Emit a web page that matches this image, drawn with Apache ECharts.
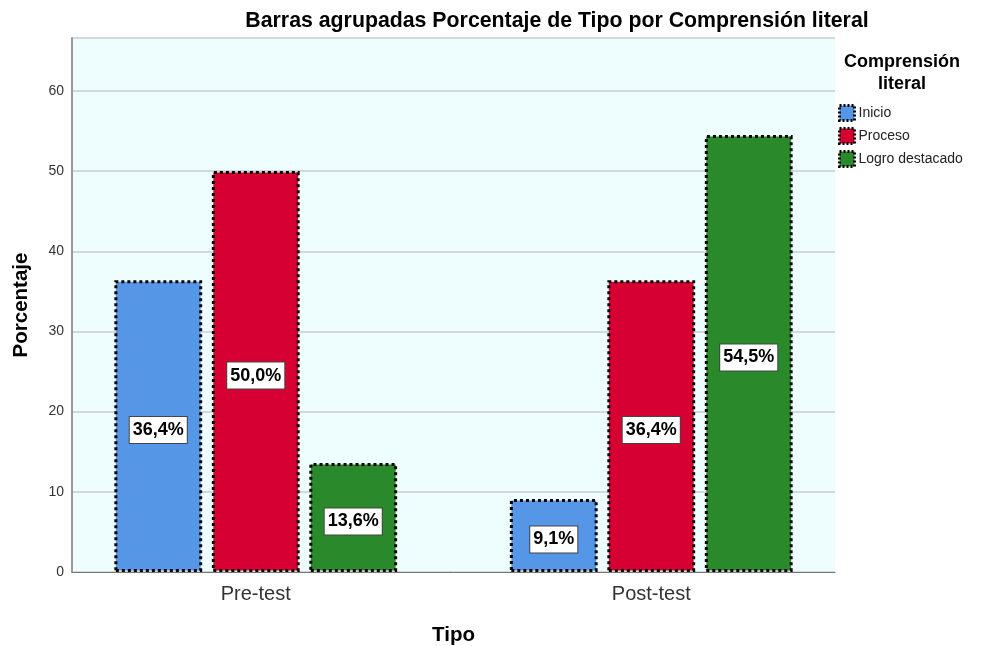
<!DOCTYPE html>
<html><head><meta charset="utf-8">
<script src="https://cdn.jsdelivr.net/npm/echarts@6/dist/echarts.min.js"></script>
<style>html,body{margin:0;padding:0;background:#fff}#c{width:988px;height:646px}</style>
</head><body><div id="c"></div>
<script>
const categories = ['Pre-test', 'Post-test'];
const seriesNames = ['Inicio', 'Proceso', 'Logro destacado'];
const inicio = [36.4, 9.1];
const proceso = [50.0, 36.4];
const logro = [13.6, 54.5];
const yTicks = [0, 10, 20, 30, 40, 50, 60];
const colors = ['#5596E6', '#D70033', '#2A8A2B'];

const chart = echarts.init(document.getElementById('c'));
const values = [inicio, proceso, logro];
const fmt = p => p.value.toFixed(1).replace('.', ',') + '%';
const YMAX = 66.6;
chart.setOption({
  animation: false,
  backgroundColor: '#fff',
  textStyle: { fontFamily: 'Liberation Sans, Arial, sans-serif' },
  title: [
    { text: 'Barras agrupadas Porcentaje de Tipo por Comprensión literal', left: 552, top: 6, textAlign: 'center',
      textStyle: { fontSize: 21.3, fontWeight: 'bold', color: '#000' } },
    { text: 'Comprensión\nliteral', left: 897, top: 46, textAlign: 'center',
      textStyle: { fontSize: 18, fontWeight: 'bold', color: '#000', lineHeight: 22 } }
  ],
  legend: {
    orient: 'vertical', left: 833, top: 99, itemWidth: 15, itemHeight: 15, itemGap: 5,
    icon: 'rect',
    itemStyle: { borderColor: '#000', borderWidth: 3, borderType: [2, 2] },
    textStyle: { fontSize: 14, color: '#222', lineHeight: 15, padding: [0, 0, 0, -1] },
    data: seriesNames
  },
  grid: [
    { left: 72, right: 153, top: 38, bottom: 74, backgroundColor: '#EEFEFF', show: true, borderWidth: 0, outerBoundsMode: 'none', containLabel: false },
    { left: 58, right: 139, top: 38, bottom: 74, outerBoundsMode: 'none', containLabel: false }
  ],
  xAxis: [
    {
      gridIndex: 0, type: 'category', data: categories,
      name: 'Tipo', nameLocation: 'middle', nameGap: 53,
      nameTextStyle: { fontSize: 20.5, fontWeight: 'bold', color: '#000' },
      axisLine: { lineStyle: { color: '#777', width: 1 } },
      axisTick: { show: false },
      axisLabel: { show: false }
    },
    {
      gridIndex: 1, type: 'category', data: categories,
      axisLine: { show: false }, axisTick: { show: false },
      axisLabel: { fontSize: 20, color: '#333', margin: 12 }
    }
  ],
  yAxis: [
    {
      gridIndex: 0, type: 'value', min: 0, max: YMAX, interval: 10,
      name: 'Porcentaje', nameLocation: 'middle', nameGap: 40,
      nameTextStyle: { fontSize: 20.5, fontWeight: 'bold', color: '#000' },
      axisLine: { show: true, lineStyle: { color: '#999', width: 2 } },
      axisTick: { show: false },
      axisLabel: { fontSize: 14, color: '#333', margin: 8,
        formatter: v => yTicks.includes(v) ? String(v) : '' },
      splitLine: { lineStyle: { color: '#C8CCCC', width: 1.5 } }
    },
    {
      gridIndex: 1, type: 'value', min: 0, max: YMAX, interval: 10,
      show: false, splitLine: { show: false }
    }
  ],
  series: seriesNames.map((n, i) => ({
    name: n, type: 'bar', data: values[i], xAxisIndex: 1, yAxisIndex: 1,
    barGap: '11%', barCategoryGap: '28.5%',
    itemStyle: { color: colors[i], borderColor: '#000', borderWidth: 3, borderType: [3, 3] },
    label: {
      show: true, position: 'inside', formatter: fmt, offset: [0, 4],
      fontSize: 18, fontWeight: 'bold', color: '#000',
      backgroundColor: '#fff', borderColor: '#444', borderWidth: 1, padding: [5, 3, 3, 3]
    }
  }))
});
</script></body></html>
